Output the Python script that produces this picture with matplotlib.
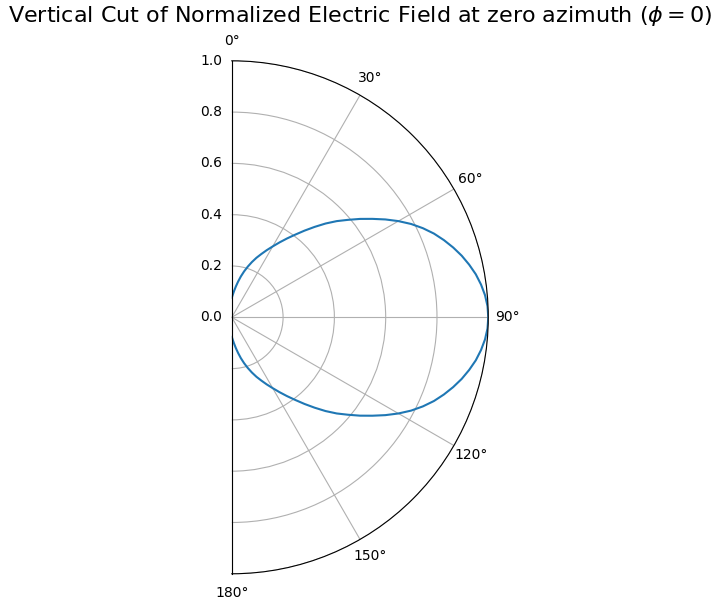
import numpy as np
import matplotlib
matplotlib.use("Agg")
import matplotlib.pyplot as plt

# angle from zenith (deg) and normalized |E| (upper half, 0..90)
theta_deg = [0, 2.5, 5, 7.5, 10, 12.5, 15, 17.5, 20, 22.5, 25, 27.5, 30, 32.5, 35,
             37.5, 40, 42.5, 45, 47.5, 50, 52.5, 55, 57.5, 60, 62.5, 65, 67.5, 70,
             72.5, 75, 77.5, 80, 82.5, 85, 87.5, 90]
e_norm = [0.076, 0.088, 0.103, 0.121, 0.141, 0.163, 0.185, 0.207, 0.229, 0.251, 0.272,
          0.295, 0.319, 0.346, 0.375, 0.406, 0.441, 0.478, 0.517, 0.555, 0.591, 0.630,
          0.669, 0.710, 0.750, 0.788, 0.822, 0.853, 0.880, 0.905, 0.928, 0.948, 0.966,
          0.980, 0.991, 0.998, 1.0]

# pattern is symmetric about 90 deg
theta_full = theta_deg + [180 - t for t in theta_deg[-2::-1]]
e_full = e_norm + e_norm[-2::-1]

r_ticks = [0.0, 0.2, 0.4, 0.6, 0.8, 1.0]

fig = plt.figure(figsize=(7.21, 6.11), dpi=100)
ax = fig.add_axes([0.1436, -0.3588, 0.7115, 1.679], projection='polar')

ax.plot(np.deg2rad(theta_full), e_full, color='C0', linewidth=1.5)

ax.set_theta_zero_location('N')
ax.set_theta_direction(-1)
ax.set_thetamin(0)
ax.set_thetamax(180)
ax.set_ylim(0, 1)
ax.set_rticks(r_ticks)
ax.grid(True)

fig.suptitle(r'Vertical Cut of Normalized Electric Field at zero azimuth ($\phi = 0$)',
             fontsize=16, x=0.5, y=0.974, va='center')

fig.savefig('out.png', dpi=100)
